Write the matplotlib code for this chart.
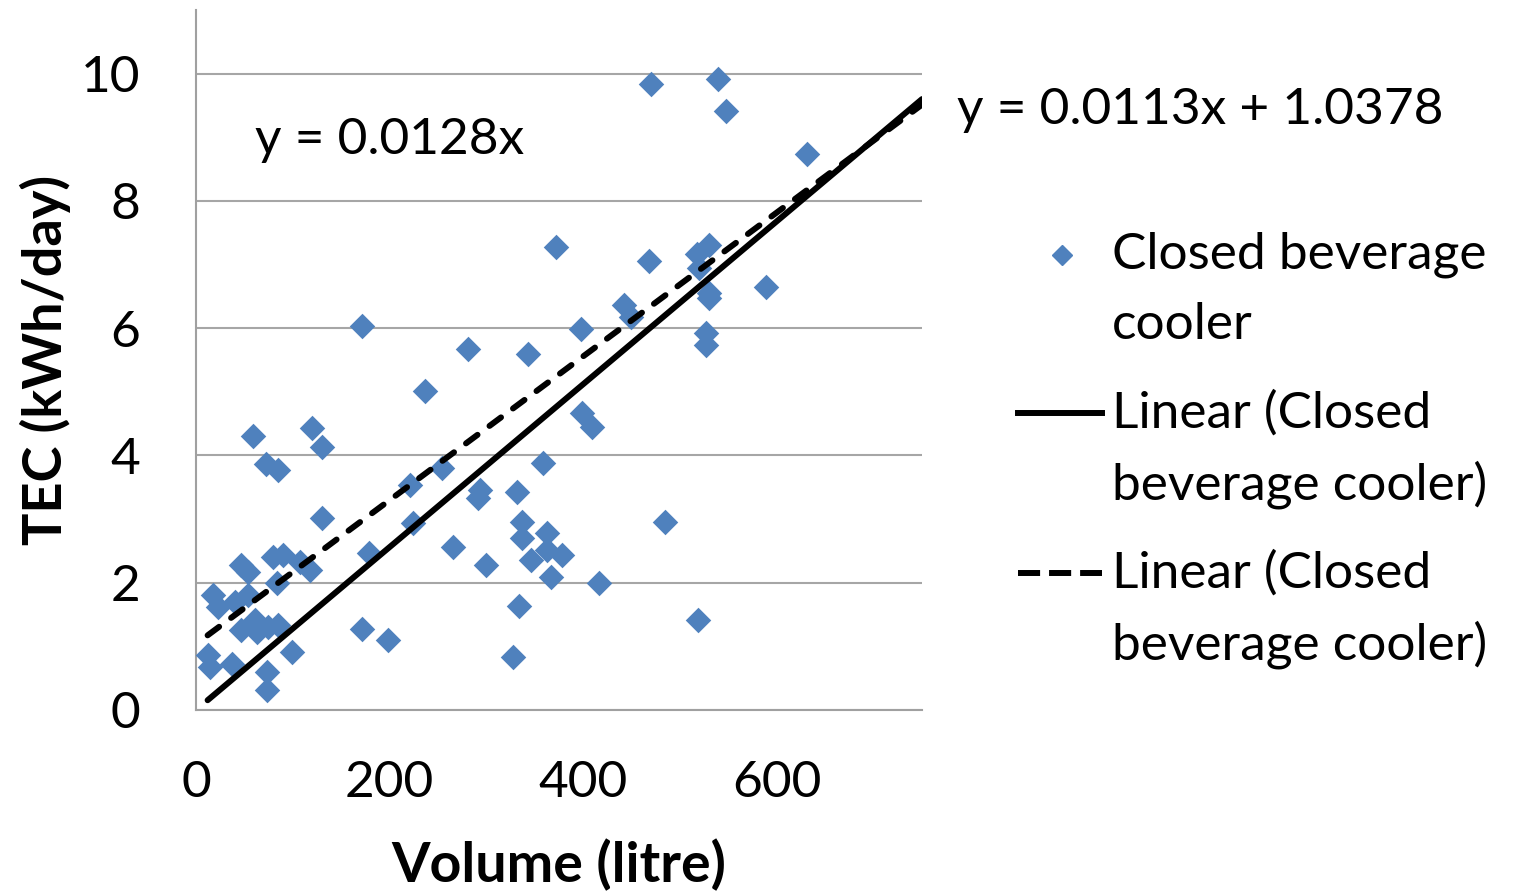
import numpy as np
import matplotlib
matplotlib.use('Agg')
import matplotlib.pyplot as plt
from matplotlib.lines import Line2D

plt.rcParams['font.family'] = ['Lato', 'DejaVu Sans']

# 数据：体积（升）与每日能耗（kWh/day）
volume = [12, 14, 37, 73, 73, 99, 18, 23, 40, 54, 47, 63, 74, 85, 61,
          47, 54, 80, 90, 107, 118, 84, 59, 120, 130, 72, 85, 130, 179, 172,
          198, 172, 281, 343, 237, 398, 399, 409, 358, 254, 221, 293, 291, 332, 224,
          337, 337, 363, 346, 363, 378, 367, 265, 300, 416, 334, 327, 470, 539, 548,
          631, 372, 468, 518, 530, 520, 589, 530, 530, 442, 449, 527, 527, 484, 519]
tec = [0.86, 0.67, 0.73, 0.60, 0.31, 0.91, 1.80, 1.62, 1.70, 1.80, 1.26, 1.22, 1.30, 1.33, 1.41,
       2.28, 2.17, 2.40, 2.43, 2.32, 2.20, 2.00, 4.30, 4.43, 4.14, 3.86, 3.77, 3.01, 2.47, 1.28,
       1.10, 6.04, 5.68, 5.60, 5.02, 5.98, 4.66, 4.44, 3.88, 3.80, 3.53, 3.45, 3.33, 3.42, 2.94,
       2.95, 2.70, 2.78, 2.35, 2.51, 2.43, 2.09, 2.56, 2.28, 2.00, 1.63, 0.83, 9.84, 9.92, 9.42,
       8.74, 7.27, 7.06, 7.17, 7.30, 6.95, 6.64, 6.56, 6.47, 6.36, 6.17, 5.92, 5.73, 2.95, 1.41]

# 趋势线系数（图中标注）
slope_origin = 0.0128
slope_lin, intercept_lin = 0.0113, 1.0378
trend_end = 750

blue = '#4F81BD'
fs = 37

fig = plt.figure(figsize=(15.2, 8.92), dpi=100)
ax = fig.add_axes([196 / 1520, 182 / 892, 726 / 1520, 700 / 892])

ax.scatter(volume, tec, marker='D', s=13 ** 2, color=blue, linewidths=0, zorder=3)

xt = np.array([min(volume), trend_end])
ax.plot(xt, slope_origin * xt, color='black', lw=4.3, solid_capstyle='round', zorder=4)
ax.plot(xt, slope_lin * xt + intercept_lin, color='black', lw=4.3,
        dashes=(2.4, 2.5), dash_capstyle='round', zorder=4)

ax.set_xlim(0, 750)
ax.set_ylim(0, 11)
ax.set_xticks([0, 200, 400, 600])
ax.set_yticks([0, 2, 4, 6, 8, 10])
ax.grid(axis='y', color='#A6A6A6', lw=1.5)
ax.set_axisbelow(True)
for s in ['top', 'right']:
    ax.spines[s].set_visible(False)
for s in ['left', 'bottom']:
    ax.spines[s].set_color('#A0A0A0')
    ax.spines[s].set_linewidth(1.5)
ax.tick_params(axis='both', length=0, labelsize=fs)
ax.tick_params(axis='y', pad=40)
ax.tick_params(axis='x', pad=36)

ax.set_xlabel('Volume (litre)', fontsize=40, fontweight='bold')
ax.xaxis.set_label_coords(0.5, -0.221)
ax.xaxis.label.set_va('center')
ax.set_ylabel('TEC (kWh/day)', fontsize=39, fontweight='bold')
ax.yaxis.set_label_coords(-0.208, 0.5)
ax.yaxis.label.set_va('center')

# 趋势线方程
fig.text(255 / 1520, 1 - 140 / 892, 'y = 0.0128x', fontsize=fs, va='center', ha='left')
fig.text(957 / 1520, 1 - 110 / 892, 'y = 0.0113x + 1.0378', fontsize=fs, va='center', ha='left')

# 图例（手动排布，符号对齐首行）
tx = 1112 / 1520
fig.add_artist(Line2D([1062 / 1520], [1 - 255 / 892], marker='D', ms=10, color=blue, lw=0))
fig.text(tx, 1 - 255 / 892, 'Closed beverage', fontsize=fs, va='center')
fig.text(tx, 1 - 325 / 892, 'cooler', fontsize=fs, va='center')
fig.add_artist(Line2D([1018 / 1520, 1102 / 1520], [1 - 413 / 892] * 2, color='black', lw=4.3))
fig.text(tx, 1 - 413 / 892, 'Linear (Closed', fontsize=fs, va='center')
fig.text(tx, 1 - 485 / 892, 'beverage cooler)', fontsize=fs, va='center')
fig.add_artist(Line2D([1018 / 1520, 1102 / 1520], [1 - 573 / 892] * 2, color='black', lw=4.3,
                      dashes=(3.7, 1.5)))
fig.text(tx, 1 - 573 / 892, 'Linear (Closed', fontsize=fs, va='center')
fig.text(tx, 1 - 645 / 892, 'beverage cooler)', fontsize=fs, va='center')

fig.savefig('out.png', dpi=100)
